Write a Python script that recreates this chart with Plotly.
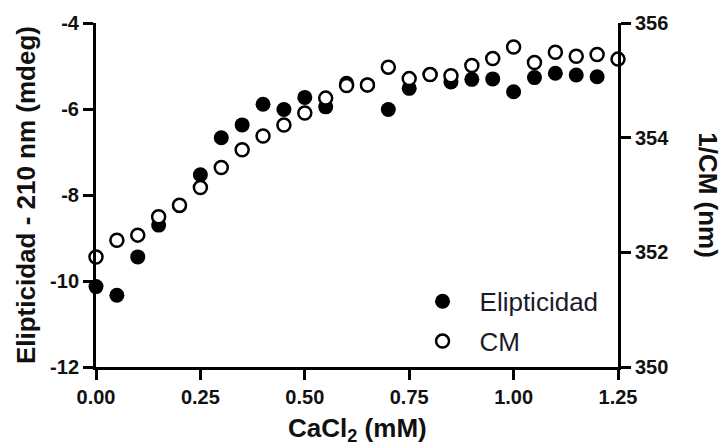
import plotly.graph_objects as go

# CaCl2 concentration (mM)
cacl2 = [0.00, 0.05, 0.10, 0.15, 0.20, 0.25, 0.30, 0.35, 0.40, 0.45, 0.50, 0.55, 0.60,
         0.65, 0.70, 0.75, 0.80, 0.85, 0.90, 0.95, 1.00, 1.05, 1.10, 1.15, 1.20, 1.25]

# Ellipticity at 210 nm (mdeg), measured up to 1.20 mM
elipticidad = [-10.13, -10.33, -9.44, -8.70, -8.25, -7.53, -6.67, -6.37, -5.89, -6.01,
               -5.73, -5.95, -5.40, -5.44, -6.01, -5.52, -5.20, -5.37, -5.31, -5.30,
               -5.60, -5.27, -5.17, -5.21, -5.25]

# Centre of mass of the fluorescence spectrum (nm)
cm = [351.92, 352.21, 352.30, 352.62, 352.82, 353.13, 353.48, 353.79, 354.03, 354.22,
      354.43, 354.69, 354.91, 354.92, 355.23, 355.03, 355.10, 355.08, 355.26, 355.38,
      355.58, 355.31, 355.49, 355.42, 355.45, 355.37]

x_ticks = [0.0, 0.25, 0.5, 0.75, 1.0, 1.25]
x_ticktext = ["0.00", "0.25", "0.50", "0.75", "1.00", "1.25"]
y_ticks = [-12, -10, -8, -6, -4]
y_ticktext = ["-12", "-10", "-8", "-6", "-4"]
y2_ticks = [350, 352, 354, 356]
y2_ticktext = ["350", "352", "354", "356"]

FONT = "Liberation Sans, Arial, sans-serif"
INK = "#111111"

fig = go.Figure()

fig.add_trace(go.Scatter(
    x=cacl2[:len(elipticidad)], y=elipticidad, name="Elipticidad",
    mode="markers", cliponaxis=False, legendgroup="a",
    marker=dict(symbol="circle", size=15, color="black", line=dict(width=0)),
))
fig.add_trace(go.Scatter(
    x=cacl2, y=cm, name="CM", yaxis="y2",
    mode="markers", cliponaxis=False, legendgroup="b",
    marker=dict(symbol="circle", size=13, color="white",
                line=dict(width=2.5, color="black")),
))

axis_common = dict(
    showline=True, linewidth=3, linecolor="black",
    ticks="outside", ticklen=10, tickwidth=3, tickcolor="black",
    showgrid=False, zeroline=False,
    tickfont=dict(family=FONT, size=20, color=INK, weight="bold"),
)

fig.update_layout(
    width=724, height=446,
    margin=dict(l=96, r=106, t=17, b=79),
    paper_bgcolor="white", plot_bgcolor="white",
    font=dict(family=FONT, color=INK),
    xaxis=dict(range=[0, 1.25], tickvals=x_ticks, ticktext=x_ticktext, **axis_common),
    yaxis=dict(range=[-12, -4], tickvals=y_ticks, ticktext=y_ticktext, **axis_common),
    yaxis2=dict(range=[350, 356], tickvals=y2_ticks, ticktext=y2_ticktext,
                overlaying="y", side="right", **axis_common),
    showlegend=True,
    legend=dict(
        x=0.593, y=0.259, xanchor="left", yanchor="top",
        bgcolor="rgba(0,0,0,0)", borderwidth=0,
        font=dict(family=FONT, size=26, color="#1a1a2a"),
        itemwidth=64, tracegroupgap=3,
    ),
    annotations=[
        dict(text="<b>CaCl<sub>2</sub> (mM)</b>", xref="paper", yref="paper",
             x=0.5, y=-0.128, xanchor="center", yanchor="top", showarrow=False,
             font=dict(family=FONT, size=26, color=INK)),
        dict(text="<b>Elipticidad - 210 nm (mdeg)</b>", xref="paper", yref="paper",
             x=-0.134, y=0.5, xanchor="center", yanchor="middle", textangle=-90,
             showarrow=False, font=dict(family=FONT, size=26, color=INK)),
        dict(text="<b>1/CM (nm)</b>", xref="paper", yref="paper",
             x=1.172, y=0.5, xanchor="center", yanchor="middle", textangle=90,
             showarrow=False, font=dict(family=FONT, size=26, color=INK)),
    ],
)

fig.write_html("out.html")
